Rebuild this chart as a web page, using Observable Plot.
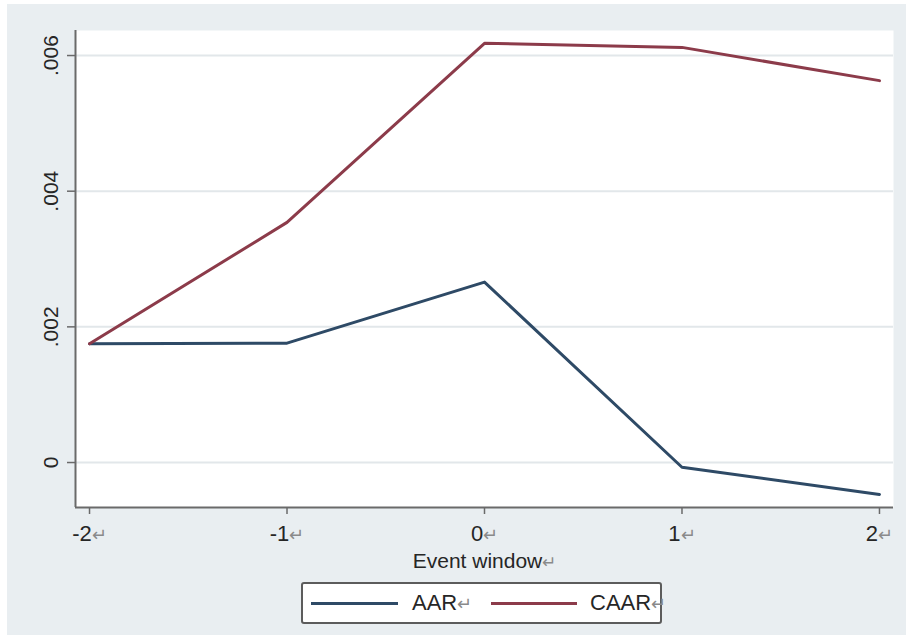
<!DOCTYPE html>
<html>
<head>
<meta charset="utf-8">
<script src="https://cdn.jsdelivr.net/npm/d3@7"></script>
<script src="https://cdn.jsdelivr.net/npm/@observablehq/plot@0.6"></script>
<style>
  html, body { margin: 0; padding: 0; }
  body { width: 906px; height: 635px; overflow: hidden; position: relative; background: #fff;
         font-family: "Liberation Sans", Arial, sans-serif; }
  #bg { position: absolute; left: 7px; top: 4px; right: 0; bottom: 0; background: #e9eef1; }
  #chart { position: absolute; left: 0; top: 0; }
  #legend { position: absolute; left: 301px; top: 582px; width: 357px; height: 38px;
            border: 2px solid #5c5c5c; border-radius: 3px; background: #fff; }
  .sw { position: absolute; top: 18px; height: 3px; }
  .lt { position: absolute; top: 6px; font-size: 22px; line-height: 26px; color: #262626; }
  .ret { color: #8a8a8a; font-size: 0.8em; }
</style>
</head>
<body>
<div id="bg"></div>
<div id="chart"></div>
<div id="legend"></div>
<script>
// ---- data ----
const xs = [-2, -1, 0, 1, 2];
const xTickLabels = ["-2", "-1", "0", "1", "2"];
const aar  = [0.00175, 0.00176, 0.00266, -0.00007, -0.00047];
const caar = [0.00175, 0.00354, 0.00618, 0.00612, 0.00563];
const seriesNames = ["AAR", "CAAR"];
const seriesColors = ["#2e4a66", "#8c3b4a"];
const yTicks = [0, 0.002, 0.004, 0.006];
const yTickLabels = ["0", ".002", ".004", ".006"];
const xTitle = "Event window";
const xDomain = [-2.071, 2.071];
const yDomain = [-0.000663, 0.006369];

const rows = xs.flatMap((x, i) => [
  {x, y: aar[i], s: seriesNames[0]},
  {x, y: caar[i], s: seriesNames[1]}
]);
const xLab = new Map(xs.map((x, i) => [x, xTickLabels[i]]));
const yLab = new Map(yTicks.map((y, i) => [y, yTickLabels[i]]));

const chart = Plot.plot({
  width: 906,
  height: 575,
  marginLeft: 75,
  marginRight: 13,
  marginTop: 30,
  marginBottom: 68,
  style: {background: "transparent", fontFamily: '"Liberation Sans", Arial, sans-serif', color: "#262626"},
  x: {domain: xDomain, label: null},
  y: {domain: yDomain, label: null},
  color: {domain: seriesNames, range: seriesColors},
  marks: [
    Plot.frame({fill: "white"}),
    Plot.ruleY(yTicks, {stroke: "#e2e7ea", strokeWidth: 2}),
    Plot.line(rows, {x: "x", y: "y", z: "s", stroke: "s", strokeWidth: 3}),
    Plot.ruleX([xDomain[0]], {stroke: "#6a6a6a", strokeWidth: 2}),
    Plot.ruleY([yDomain[0]], {stroke: "#6a6a6a", strokeWidth: 2}),
    Plot.axisX({ticks: xs, tickFormat: d => xLab.get(d) + "↵", tickSize: 7, tickPadding: 11,
                fontSize: 22, stroke: "#6a6a6a", strokeWidth: 1.5, fill: "#262626"}),
    Plot.axisY({ticks: yTicks, tickFormat: d => yLab.get(d), tickRotate: -90, tickSize: 8, tickPadding: 10,
                fontSize: 21, stroke: "#6a6a6a", strokeWidth: 1.5, fill: "#262626"}),
    Plot.text([xTitle + "↵"], {frameAnchor: "bottom", dy: 60, fontSize: 21, fill: "#262626"})
  ]
});

// lighter return-glyph, as in the reference
chart.querySelectorAll("text").forEach(t => {
  const s = t.textContent;
  if (s.endsWith("↵") && t.children.length === 0) {
    t.textContent = s.slice(0, -1);
    const ts = document.createElementNS("http://www.w3.org/2000/svg", "tspan");
    ts.textContent = "↵";
    ts.setAttribute("fill", "#8a8a8a");
    ts.setAttribute("font-size", "0.8em");
    t.appendChild(ts);
  }
});
document.getElementById("chart").appendChild(chart);

// legend
const legend = document.getElementById("legend");
const swLeft = [8, 188], swWidth = [87, 86], txtLeft = [109, 287];
seriesNames.forEach((name, i) => {
  const sw = document.createElement("div");
  sw.className = "sw";
  sw.style.left = swLeft[i] + "px";
  sw.style.width = swWidth[i] + "px";
  sw.style.background = seriesColors[i];
  legend.appendChild(sw);
  const lt = document.createElement("div");
  lt.className = "lt";
  lt.style.left = txtLeft[i] + "px";
  lt.innerHTML = name + '<span class="ret">↵</span>';
  legend.appendChild(lt);
});
</script>
</body>
</html>
